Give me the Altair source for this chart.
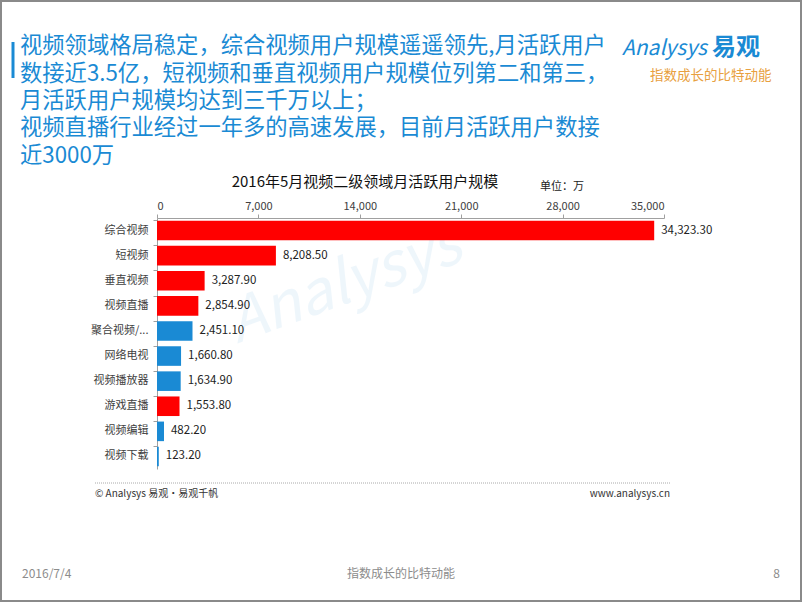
import altair as alt
import pandas as pd

categories = ["综合视频", "短视频", "垂直视频", "视频直播", "聚合视频/...", "网络电视",
              "视频播放器", "游戏直播", "视频编辑", "视频下载"]
values = [34323.30, 8208.50, 3287.90, 2854.90, 2451.10, 1660.80, 1634.90, 1553.80, 482.20, 123.20]
groups = ["red", "red", "red", "red", "blue", "blue", "blue", "red", "blue", "blue"]
x_ticks = [0, 7000, 14000, 21000, 28000, 35000]

headline = ["视频领域格局稳定，综合视频用户规模遥遥领先,月活跃用户",
            "数接近3.5亿，短视频和垂直视频用户规模位列第二和第三，",
            "月活跃用户规模均达到三千万以上；",
            "视频直播行业经过一年多的高速发展，目前月活跃用户数接",
            "近3000万"]
chart_title = "2016年5月视频二级领域月活跃用户规模"
unit_text = "单位：万"
source_text = "© Analysys 易观·易观千帆"
site_text = "www.analysys.cn"
date_text = "2016/7/4"
slogan_text = "指数成长的比特动能"
page_text = "8"

FONT = "Noto Sans CJK SC"
BLUE = "#1a8ad4"
RED = "#ff0000"

W, H = 507, 251
L, T = 157, 218

df = pd.DataFrame({"cat": categories, "val": values, "grp": groups})

y_enc = alt.Y("cat:N", sort=categories, title=None,
              scale=alt.Scale(paddingInner=0.22, paddingOuter=0.11),
              axis=alt.Axis(labelFont=FONT, labelFontSize=11, labelColor="#404040",
                            domainColor="#a0a0a0", tickColor="#a0a0a0", tickSize=4,
                            bandPosition=0, labelPadding=5, labelLimit=120))
x_enc = alt.X("val:Q", title=None,
              scale=alt.Scale(domain=[0, 35000], nice=False),
              axis=alt.Axis(orient="top", values=x_ticks, format=",d", grid=False,
                            labelFont=FONT, labelFontSize=11, labelColor="#404040",
                            domainColor="#a0a0a0", tickColor="#a0a0a0", tickSize=4,
                            labelPadding=3))

bars = alt.Chart(df).mark_bar().encode(
    x=x_enc, y=y_enc,
    color=alt.Color("grp:N", scale=alt.Scale(domain=["red", "blue"], range=[RED, BLUE]), legend=None),
)
labels = alt.Chart(df).mark_text(align="left", dx=7, font=FONT, fontSize=11.5, color="#222222").encode(
    x=x_enc, y=y_enc, text=alt.Text("val:Q", format=",.2f"))


def txt(s, px, py, size, color, align="left", weight="normal", angle=0, opacity=1.0, style="normal"):
    kw = dict(align=align, baseline="middle", font=FONT, fontSize=size, color=color,
              fontWeight=weight, opacity=opacity, fontStyle=style)
    if angle:
        kw["angle"] = angle
    return alt.Chart(pd.DataFrame({"t": [s]})).mark_text(**kw).encode(
        x=alt.value(px - L), y=alt.value(py - T), text="t:N")


layers = []
# watermark
layers.append(txt("Analysys", 345, 285, 60, BLUE, align="center", angle=340, opacity=0.07, style="italic"))
layers += [bars, labels]

line_y = [46, 74, 101, 128, 156]
for s, yy in zip(headline, line_y):
    layers.append(txt(s, 20, yy, 22.3, BLUE))

layers.append(txt(chart_title, 365, 182, 15, "#111111", align="center"))
layers.append(txt(unit_text, 540, 187, 11, "#222222"))
layers.append(txt(source_text, 95, 494, 10, "#333333"))
layers.append(txt(site_text, 670, 494, 10, "#333333", align="right"))
layers.append(txt(date_text, 22, 574, 12, "#8c8c8c"))
layers.append(txt(slogan_text, 401, 574, 12, "#8c8c8c", align="center"))
layers.append(txt(page_text, 780, 574, 12, "#8c8c8c", align="right"))
# logo
layers.append(txt("Analysys", 622, 49, 21, BLUE, style="italic"))
layers.append(txt("易观", 712, 48, 24, BLUE, weight="bold"))
layers.append(txt("指数成长的比特动能", 650, 76, 13.5, "#e8a040"))

# decorations
accent = alt.Chart(pd.DataFrame({"a": [0]})).mark_rule(color=BLUE, strokeWidth=3).encode(
    x=alt.value(13 - L), y=alt.value(42 - T), y2=alt.value(78 - T))
dotted = alt.Chart(pd.DataFrame({"a": [0]})).mark_rule(color="#aaaaaa", strokeWidth=1, strokeDash=[1, 1]).encode(
    x=alt.value(95 - L), x2=alt.value(670 - L), y=alt.value(483 - T))
border = alt.Chart(pd.DataFrame({"a": [0]})).mark_rect(filled=False, stroke="#8a8a8a", strokeWidth=2).encode(
    x=alt.value(1 - L), x2=alt.value(801 - L), y=alt.value(1 - T), y2=alt.value(601 - T))
layers += [accent, dotted, border]

chart = alt.layer(*layers).properties(
    width=W, height=H,
    autosize=alt.AutoSizeParams(type="none"),
    padding={"left": L, "top": T, "right": 802 - L - W, "bottom": 602 - T - H},
    background="white",
).configure_view(stroke=None)

chart.save("out.html", embed_options={"renderer": "svg", "actions": False})
